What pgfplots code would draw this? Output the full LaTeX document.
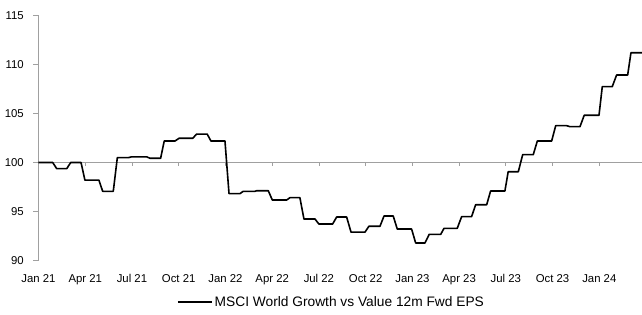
\documentclass[border=0pt]{standalone}
\usepackage{fontspec}
\setmainfont{Liberation Sans}
\usepackage{pgfplots}
\pgfplotsset{compat=1.18}
\definecolor{axisgray}{RGB}{160,160,160}
\begin{document}
\begin{tikzpicture}
\begin{axis}[
  at={(0,0)}, anchor=south west,
  scale only axis,
  width=603.5bp, height=245bp,
  xmin=0, xmax=38.74,
  ymin=90, ymax=115,
  axis x line*=bottom,
  axis y line*=left,
  x axis line style={draw=none},
  y axis line style={draw=axisgray, line width=1bp},
  xtick={0,3,...,36},
  xticklabels={Jan 21,Apr 21,Jul 21,Oct 21,Jan 22,Apr 22,Jul 22,Oct 22,Jan 23,Apr 23,Jul 23,Oct 23,Jan 24},
  xtick style={draw=none},
  ytick={90,95,...,115},
  ytick style={draw=axisgray, line width=0.8bp},
  tick align=outside,
  major tick length=5bp,
  /pgf/number format/assume math mode=true,
  xticklabel style={font=\fontsize{11.4}{12}\selectfont, inner sep=0pt, anchor=north, yshift=-9bp},
  yticklabel style={font=\fontsize{11.4}{12}\selectfont, inner sep=0pt, anchor=east, xshift=-9.5bp},
  legend style={draw=none, fill=none, at={(0.4855,-0.169)}, anchor=center,
    font=\fontsize{13.8}{15}\selectfont, inner sep=0pt},
  legend image code/.code={\draw[#1] (0bp,0bp) -- (34bp,0bp);},
  legend cell align=left,
  clip=false,
]
\draw[axisgray, line width=1bp] (axis cs:0,100) -- (axis cs:38.74,100);
\pgfplotsinvokeforeach{3,6,...,36}{\draw[axisgray, line width=0.8bp] (axis cs:#1,100) -- ([yshift=-4bp]axis cs:#1,100);}
\addplot[black, line width=1.6bp, line join=round] coordinates {
(0,100) (0.91,100) (1.17,99.37) (1.81,99.37) (2.07,100) (2.73,100)
(2.98,98.2) (3.88,98.2) (4.12,97.06) (4.80,97.06) (5.06,100.49) (5.76,100.49)
(5.98,100.58) (6.94,100.58) (7.16,100.43) (7.84,100.43) (8.07,102.19) (8.76,102.19)
(9.02,102.47) (9.90,102.47) (10.15,102.9) (10.83,102.9) (11.07,102.19) (11.97,102.19)
(12.23,96.82) (12.93,96.82) (13.14,97.06) (13.90,97.06) (14.01,97.12) (14.75,97.12)
(15.01,96.17) (15.93,96.17) (16.14,96.41) (16.78,96.41) (17.04,94.23) (17.75,94.23)
(18.00,93.72) (18.88,93.72) (19.14,94.44) (19.78,94.44) (20.06,92.9) (20.96,92.9)
(21.21,93.49) (21.92,93.49) (22.18,94.54) (22.77,94.54) (23.03,93.21) (23.95,93.21)
(24.21,91.79) (24.81,91.79) (25.08,92.67) (25.82,92.67) (26.03,93.28) (26.88,93.28)
(27.16,94.47) (27.80,94.47) (28.06,95.69) (28.77,95.69) (29.02,97.09) (29.94,97.09)
(30.15,99.06) (30.80,99.06) (31.08,100.8) (31.76,100.8) (32.02,102.19) (32.94,102.19)
(33.20,103.76) (33.90,103.76) (34.11,103.66) (34.76,103.66) (35.03,104.82) (35.98,104.82)
(36.19,107.74) (36.83,107.74) (37.11,108.93) (37.82,108.93) (38.03,111.2) (38.74,111.2)
};
\addlegendentry{MSCI World Growth vs Value 12m Fwd EPS}
\end{axis}
\pgfresetboundingbox
\useasboundingbox (-38.5bp,-54.5bp) rectangle (603.5bp,260.5bp);
\end{tikzpicture}
\end{document}
